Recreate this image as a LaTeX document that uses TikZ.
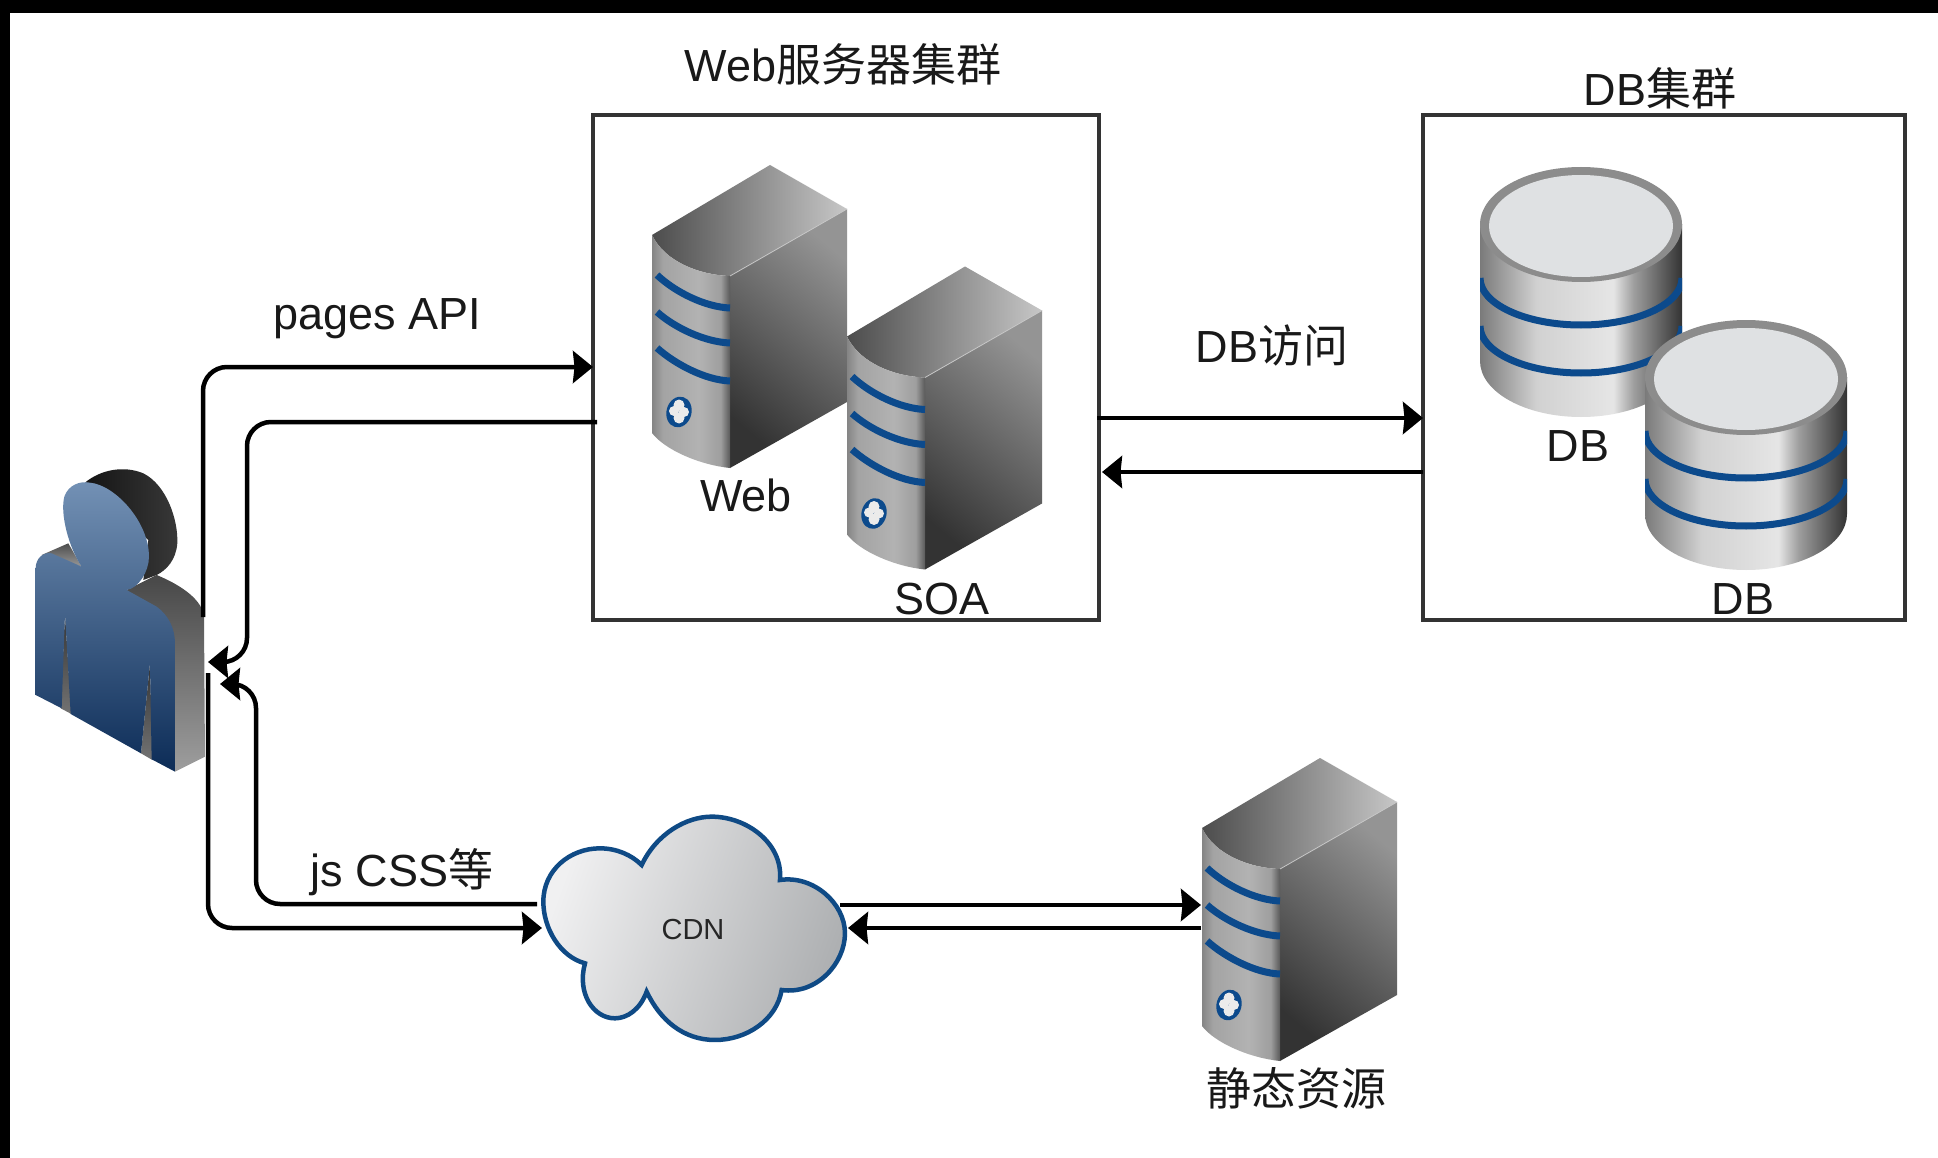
\documentclass[tikz,border=0pt]{standalone}
\usepackage{fontspec}
\setmainfont{Liberation Sans}
\newfontfamily\cjk{Noto Sans CJK SC}
\usetikzlibrary{arrows.meta}
\definecolor{stripeblue}{HTML}{0C4A8C}
\definecolor{cloudblue}{HTML}{0F4A85}
\definecolor{boxline}{HTML}{333333}
\definecolor{dbtop}{HTML}{DFE1E3}
\pgfdeclarehorizontalshading{srvfront}{100bp}{rgb(0bp)=(.52,.52,.52); rgb(25bp)=(.52,.52,.52); rgb(32bp)=(.64,.64,.64); rgb(55bp)=(.7,.7,.7); rgb(69bp)=(.62,.62,.62); rgb(75bp)=(.35,.35,.35); rgb(100bp)=(.35,.35,.35)}
\pgfdeclarehorizontalshading{cylbody}{100bp}{rgb(0bp)=(.48,.48,.48); rgb(25bp)=(.48,.48,.48); rgb(39bp)=(.82,.82,.82); rgb(58bp)=(.9,.9,.9); rgb(63bp)=(.62,.62,.62); rgb(75bp)=(.2,.2,.2); rgb(100bp)=(.2,.2,.2)}
\tikzset{
  conn/.style={line width=4.5pt,black,rounded corners=24pt,-{Stealth[length=20pt,width=32pt,inset=1.5pt]}},
  clusterbox/.style={draw=boxline,line width=4pt,fill=none,outer sep=0pt,inner sep=0pt},
  iconbox/.style={draw=none,fill=none,outer sep=0pt,inner sep=0pt},
  lab/.style={anchor=base,inner sep=0pt,outer sep=0pt,font=\fontsize{45}{50}\selectfont,text=black!90},
  smalllab/.style={lab,font=\fontsize{29}{32}\selectfont,text=black!85},
  stripe/.style={stripeblue,line width=7pt},
}
\newcommand{\serverpic}[2]{%
  \begin{scope}[shift={(#1,#2)}]
    \shade[left color=black!70,right color=black!22]
      (652,235) -- (770,165) -- (847,209) -- (730,276)
      .. controls (700,275) and (665,262) .. (652,235) -- cycle;
    \shade[top color=black!42,bottom color=black!80,shading angle=-40]
      (730,276) -- (847,209) -- (847,402) -- (730,468) -- cycle;
    \draw[black!22,line width=.8pt] (730,276) -- (847,209);
    \shade[shading=srvfront]
      (652,235) .. controls (665,262) and (700,275) .. (730,276)
      -- (730,468) .. controls (700,465) and (665,450) .. (652,433) -- cycle;
    \draw[stripe] (657,275) .. controls (675,292) and (705,307) .. (730,308);
    \draw[stripe] (657,312) .. controls (675,328) and (705,342) .. (730,343);
    \draw[stripe] (657,348) .. controls (675,364) and (705,380) .. (730,381);
    \fill[stripeblue,rotate around={-15:(679,412)}] (679,412) ellipse [x radius=12.5,y radius=15.5];
    \fill[white!92!black] (679,405) circle (5.5) (674,411) circle (5) (684,412) circle (5) (679,418) circle (5.5);
  \end{scope}}
\newcommand{\dbpic}[2]{%
  \begin{scope}[shift={(#1,#2)}]
    \shade[shading=cylbody] (1480,224) -- (1480,361) arc[start angle=180,end angle=0,x radius=101,y radius=56] -- (1682,224) -- cycle;
    \begin{scope}
      \clip (1480,224) rectangle (1682,420);
      \draw[stripe] (1480,278) arc[start angle=180,end angle=0,x radius=101,y radius=47];
      \draw[stripe] (1480,326) arc[start angle=180,end angle=0,x radius=101,y radius=47];
    \end{scope}
    \fill[black!45] (1581,224.5) ellipse [x radius=101,y radius=57.5];
    \fill[dbtop] (1581,226) ellipse [x radius=92,y radius=51];
  \end{scope}}
\begin{document}
\begin{tikzpicture}[x=1pt,y=-1pt]
\useasboundingbox (0,0) rectangle (1938,1158);
\fill[white] (0,0) rectangle (1938,1158);
\fill[black] (0,0) rectangle (1938,13);
\fill[black] (0,0) rectangle (10,1158);

% cluster frames
\node[clusterbox,minimum width=506pt,minimum height=505pt] (webcluster) at (846,367.5) {};
\node[clusterbox,minimum width=482pt,minimum height=505pt] (dbcluster) at (1664,367.5) {};

% servers and databases
\serverpic{0}{0}
\serverpic{195}{101.5}
\serverpic{550}{593}
\dbpic{0}{0}
\dbpic{165}{153}

% person
\begin{scope}[shift={(0,440)},x=.3333pt,y=-.3333pt]
  \shade[top color=black!70,bottom color=black!40]
    (125,345) -- (205,310) -- (245,380) -- cycle;
  \shade[top color=black!72,bottom color=black!38]
    (380,450) -- (470,405) .. controls (530,430) and (600,470) .. (612,525)
    -- (615,950) -- (525,995) -- (525,610) -- cycle;
  \shade[left color=black!92,right color=black!78]
    (255,128) .. controls (300,90) and (370,75) .. (430,100)
    .. controls (500,135) and (535,240) .. (532,310)
    .. controls (528,360) and (500,390) .. (470,405) -- (430,420) -- (445,300) -- cycle;
  \shade[top color=black!80,bottom color=black!55] (195,520) -- (182,805) -- (214,822) -- cycle;
  \shade[top color=black!80,bottom color=black!55] (450,670) -- (423,940) -- (457,960) -- cycle;
  \definecolor{pa}{HTML}{7391B5}\definecolor{pb}{HTML}{2F5580}\definecolor{pc}{HTML}{0C2C57}
  \shade[top color=pa,middle color=pb,bottom color=pc]
    (245,380) .. controls (205,320) and (180,220) .. (193,170)
    .. controls (205,135) and (240,122) .. (270,128)
    .. controls (345,135) and (447,245) .. (447,350)
    .. controls (447,395) and (415,445) .. (380,450)
    -- (470,500) .. controls (505,525) and (525,565) .. (525,610)
    -- (525,995) -- (455,958) -- (450,670) -- (423,940) -- (212,822) -- (195,520) -- (185,805) -- (107,765)
    -- (107,385) .. controls (107,355) and (130,335) .. (155,340) -- cycle;
\end{scope}
\node[iconbox,minimum width=172pt,minimum height=303pt] (user) at (121,621) {};

% cloud
\begin{scope}[shift={(520,800)},x=.3333pt,y=-.3333pt]
  \definecolor{ca}{HTML}{F0F0F1}\definecolor{cb}{HTML}{AEB0B2}
  \shade[left color=ca,right color=cb,shading angle=70]
    (365,195) .. controls (410,100) and (500,50) .. (575,50)
    .. controls (680,50) and (790,130) .. (780,240)
    .. controls (880,225) and (975,310) .. (975,400)
    .. controls (975,490) and (890,585) .. (785,570)
    .. controls (770,660) and (680,720) .. (585,720)
    .. controls (490,720) and (420,660) .. (380,575)
    .. controls (360,630) and (320,655) .. (285,655)
    .. controls (220,655) and (170,580) .. (195,490)
    .. controls (120,470) and (70,385) .. (70,305)
    .. controls (70,210) and (150,145) .. (240,145)
    .. controls (290,145) and (335,165) .. (365,195) -- cycle;
  \draw[cloudblue,line width=4.5pt]
    (365,195) .. controls (410,100) and (500,50) .. (575,50)
    .. controls (680,50) and (790,130) .. (780,240)
    .. controls (880,225) and (975,310) .. (975,400)
    .. controls (975,490) and (890,585) .. (785,570)
    .. controls (770,660) and (680,720) .. (585,720)
    .. controls (490,720) and (420,660) .. (380,575)
    .. controls (360,630) and (320,655) .. (285,655)
    .. controls (220,655) and (170,580) .. (195,490)
    .. controls (120,470) and (70,385) .. (70,305)
    .. controls (70,210) and (150,145) .. (240,145)
    .. controls (290,145) and (335,165) .. (365,195) -- cycle;
\end{scope}
\node[iconbox,minimum width=303pt,minimum height=225pt] (cdn) at (694.5,928) {};
\node[iconbox,minimum width=196pt,minimum height=304pt] (staticsrv) at (1299,910) {};

% labels
\node[lab] (tweb) at (843,82) {Web{\cjk 服务器集群}};
\node[lab] (tdb) at (1660,106) {DB{\cjk 集群}};
\node[lab] (tpages) at (377,329) {pages API};
\node[lab] (lweb) at (746,511) {Web};
\node[lab] (lsoa) at (942,614) {SOA};
\node[lab] (tdbaccess) at (1272,362) {DB{\cjk 访问}};
\node[lab] (ldba) at (1578,461) {DB};
\node[lab] (ldbb) at (1743,614) {DB};
\node[lab] (tjs) at (402,886) {js CSS{\cjk 等}};
\node[smalllab] (lcdn) at (693,939) {CDN};
\node[lab] (lstatic) at (1296,1105) {\cjk 静态资源};

% connector ends on the node outlines
\coordinate (uOut) at (203,617);
\coordinate (uIn) at (208,662);
\coordinate (uIn2) at (220,684);
\coordinate (uOut2) at (208,673);
\coordinate (webIn) at (593,367);
\coordinate (webOut) at (597,422);
\coordinate (webDbOut) at (1097,418);
\coordinate (webDbIn) at (1102,472);
\coordinate (dbIn) at (1423,418);
\coordinate (dbOut) at (1423,472);
\coordinate (cdnOutL) at (537,904);
\coordinate (cdnInL) at (542,928);
\coordinate (cdnOutR) at (840,905);
\coordinate (cdnInR) at (848,928);
\coordinate (srvIn) at (1201,905);
\coordinate (srvOut) at (1201,928);

% connectors
\draw[conn] (uOut) |- (webIn);
\draw[conn] (webOut) -- (247,422) -- (247,662) -- (uIn);
\draw[conn] (uOut2) |- (cdnInL);
\draw[conn] (cdnOutL) -- (256,904) -- (256,684) -- (uIn2);
\draw[conn] (webDbOut) -- (dbIn);
\draw[conn] (dbOut) -- (webDbIn);
\draw[conn] (cdnOutR) -- (srvIn);
\draw[conn] (srvOut) -- (cdnInR);
\end{tikzpicture}
\end{document}
